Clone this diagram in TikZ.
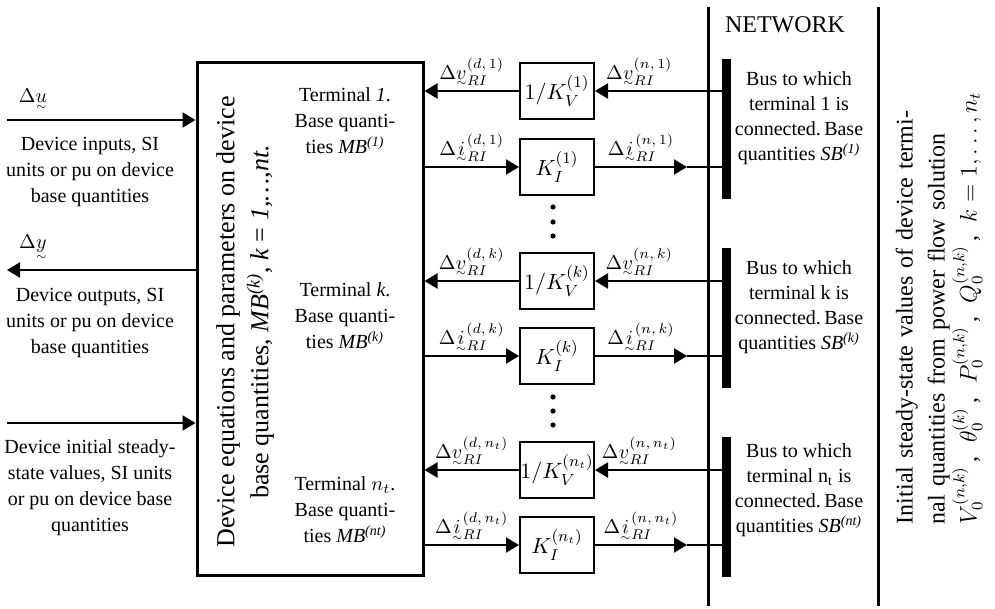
\documentclass[tikz,border=0pt]{standalone}
\usepackage{amsmath}
\usepackage{fontspec}
\setmainfont{Liberation Serif}
\usetikzlibrary{arrows.meta, positioning, calc}

% phasor: letter with a small tilde underneath
\newcommand{\phas}[1]{\mathord{\vtop{\offinterlineskip\halign{\hfil##\hfil\cr$#1$\cr\noalign{\kern0.3ex}$\scriptscriptstyle\sim$\cr}}}}

\begin{document}
\begin{tikzpicture}[x=0.5pt, y=-0.5pt,
    every node/.style={font=\fontsize{10}{13}\selectfont},
    arr/.style={line width=1pt, -{Triangle[length=6.5pt,width=7.5pt]}},
    gain/.style={draw, line width=1pt, minimum width=37pt, minimum height=28pt, inner sep=0pt, font=\fontsize{11}{13}\selectfont},
    busbar/.style={fill=black, minimum width=4.5pt, minimum height=70pt, inner sep=0pt},
    note/.style={align=center, inner sep=0pt},
    sig/.style={inner sep=2pt}]
  \useasboundingbox (0,0) rectangle (995,609);

  % device block
  \node[draw, line width=1.5pt, minimum width=113pt, minimum height=256pt, inner sep=0pt] (dev) at (310,319) {};
  \node[rotate=90, align=center, font=\fontsize{13}{17}\selectfont] (devtxt) at (245,322)
    {Device equations and parameters on device\\ base quantities, \textit{MB}\textsuperscript{\textit{(k)}}, \textit{k} = \textit{1,\dots,nt.}};
  \node[note] (t1) at (345,121) {Terminal \textit{1}.\\ Base quanti-\\ ties \textit{MB}\textsuperscript{\textit{(1)}}};
  \node[note] (tk) at (345,316) {Terminal \textit{k}.\\ Base quanti-\\ ties \textit{MB}\textsuperscript{\textit{(k)}}};
  \node[note] (tn) at (345,510) {Terminal $n_t$.\\ Base quanti-\\ ties \textit{MB}\textsuperscript{\textit{(nt)}}};

  % device side signals
  \coordinate (uin) at (7,120);
  \coordinate (yout) at (7,270);
  \coordinate (xin) at (7,423);
  \draw[arr] (uin) -- (uin -| dev.west);
  \draw[arr] (yout -| dev.west) -- (yout);
  \draw[arr] (xin) -- (xin -| dev.west);
  \node (du) at (33,99) {$\Delta\phas{u}$};
  \node (dy) at (33,247) {$\Delta\phas{y}$};
  \node[note] (intxt) at (90,172) {Device inputs, SI\\ units or pu on device\\ base quantities};
  \node[note] (outtxt) at (90,323) {Device outputs, SI\\ units or pu on device\\ base quantities};
  \node[note] (x0txt) at (90,488) {Device initial steady-\\ state values, SI units\\ or pu on device base\\ quantities};

  % network side
  \coordinate (nettop) at (708,7);
  \coordinate (netbot) at (708,606);
  \coordinate (rtop) at (878,7);
  \coordinate (rbot) at (878,606);
  \draw[line width=1.5pt] (nettop) -- (netbot);
  \draw[line width=1.5pt] (rtop) -- (rbot);
  \node[font=\fontsize{12}{14}\selectfont] (net) at (785,25) {NETWORK};

  \foreach \tm/\sx/\yv/\yi/\yb in {1/1/91/167/129, k/k/281/356/318, n/n_t/470/545/507} {
    \node[gain] (kv\tm) at (557,\yv) {$1/K_V^{(\sx)}$};
    \node[gain] (ki\tm) at (557,\yi) {$K_I^{(\sx)}$};
    \node[busbar] (bus\tm) at (726.5,\yb) {};
    \draw[arr] (kv\tm.west) -- (kv\tm.west -| dev.east)
      node[midway, above, sig] {$\Delta\phas{v}_{RI}^{(d,\,\sx)}$};
    \draw[arr] (ki\tm.west -| dev.east) -- (ki\tm.west)
      node[midway, above, sig] {$\Delta\phas{i}_{RI}^{(d,\,\sx)}$};
    \draw[arr] (kv\tm.east -| bus\tm.west) -- (kv\tm.east)
      node[pos=0.65, above, sig] {$\Delta\phas{v}_{RI}^{(n,\,\sx)}$};
    \draw[arr] (ki\tm.east) -- ($(ki\tm.east -| nettop)+(-21,0)$) coordinate (ti\tm)
      node[midway, above, sig] {$\Delta\phas{i}_{RI}^{(n,\,\sx)}$};
    \draw[line width=1pt] (ti\tm) -- (ki\tm.east -| bus\tm.west);
  }

  % continuation dots
  \foreach \y in {207,222,236,397,411,425}
    \fill (553,\y) circle (1.3pt);

  \node[note, font=\fontsize{10}{12.5}\selectfont] (bt1) at (799,118) {Bus to which\\ terminal 1 is\\ connected.\,Base\\ quantities \textit{SB}\textsuperscript{\textit{(1)}}};
  \node[note, font=\fontsize{10}{12.5}\selectfont] (btk) at (799,307) {Bus to which\\ terminal k is\\ connected.\,Base\\ quantities \textit{SB}\textsuperscript{\textit{(k)}}};
  \node[note, font=\fontsize{10}{12.5}\selectfont] (btn) at (799,490) {Bus to which\\ terminal n\textsubscript{t} is\\ connected.\,Base\\ quantities \textit{SB}\textsuperscript{\textit{(nt)}}};

  % power flow initial values
  \node[rotate=90, text width=216pt, align=left, inner sep=0pt, font=\fontsize{12}{16}\selectfont] (init) at (939,308)
    {\makebox[216pt][s]{Initial steady-state values of device termi-}\\
     \makebox[216pt][s]{nal quantities from power flow solution}\\
     \makebox[216pt][s]{$V_0^{(n,k)}$\,,\hfill$\theta_0^{(k)}$\,,\hfill$P_0^{(n,k)}$\,,\hfill$Q_0^{(n,k)}$\,,\hfill$k = 1,\ldots,n_t$}};
\end{tikzpicture}
\end{document}
